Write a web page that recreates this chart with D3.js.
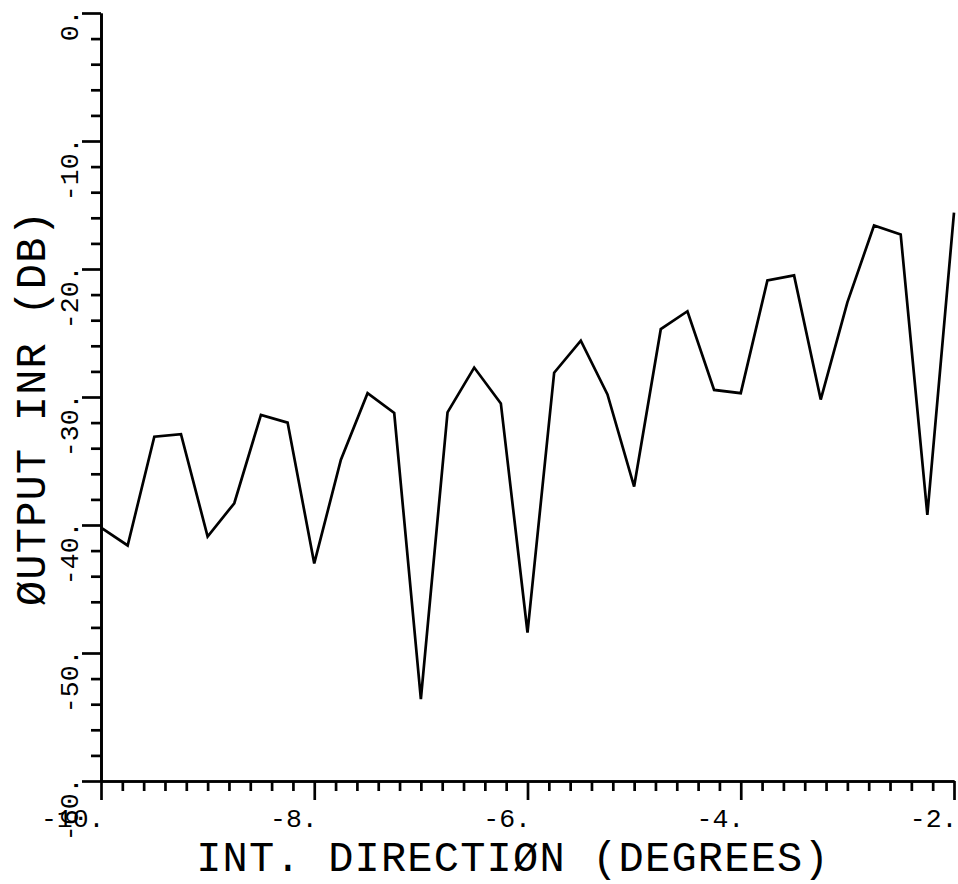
<!DOCTYPE html>
<html>
<head>
<meta charset="utf-8">
<script src="https://cdn.jsdelivr.net/npm/d3@7"></script>
<style>
  html, body { margin: 0; padding: 0; background: #fff; }
  svg { display: block; }
  text { font-family: "Liberation Mono", "DejaVu Sans Mono", monospace; fill: #000; }
</style>
</head>
<body>
<svg id="chart" width="958" height="884"></svg>
<script>
// ---- data ----
const directions = [-10, -9.75, -9.5, -9.25, -9, -8.75, -8.5, -8.25, -8, -7.75, -7.5, -7.25, -7,
  -6.75, -6.5, -6.25, -6, -5.75, -5.5, -5.25, -5, -4.75, -4.5, -4.25, -4, -3.75, -3.5, -3.25,
  -3, -2.75, -2.5, -2.25, -2];
const inrDb = [-40.2, -41.6, -33.1, -32.9, -40.9, -38.3, -31.4, -32.0, -43.0, -34.9, -29.7, -31.25, -53.6,
  -31.2, -27.7, -30.5, -48.4, -28.1, -25.6, -29.8, -37.0, -24.7, -23.3, -29.45, -29.7, -20.9, -20.5, -30.2,
  -22.6, -16.6, -17.3, -39.2, -15.6];
const xMajorTicks = [-10, -8, -6, -4, -2];
const xTickLabels = ["-10.", "-8.", "-6.", "-4.", "-2."];
const yMajorTicks = [0, -10, -20, -30, -40, -50, -60];
const yTickLabels = ["0.", "-10.", "-20.", "-30.", "-40.", "-50.", "-60."];
const xTitle = "INT. DIRECTIØN (DEGREES)";
const yTitle = "ØUTPUT INR (DB)";

// ---- layout ----
const svg = d3.select("#chart");
const x = d3.scaleLinear().domain([-10, -2]).range([101, 954]);
const y = d3.scaleLinear().domain([-60, 0]).range([781, 13]);

const xMinor = d3.range(0, 41).map(i => -10 + i * 0.2).filter((v, i) => i % 10 !== 0);
const yMinor = d3.range(0, 31).map(i => -i * 2).filter(v => v % 10 !== 0);

const sw = 2.7;

// x axis
const gx = svg.append("g").attr("transform", `translate(0,${y(-60)})`);
gx.append("g").call(d3.axisBottom(x).tickValues(xMinor).tickSize(10).tickSizeOuter(0).tickFormat(""));
gx.append("g").call(d3.axisBottom(x).tickValues(xMajorTicks).tickSize(19).tickSizeOuter(0)
  .tickFormat((d, i) => xTickLabels[i]).tickPadding(0));
gx.selectAll("path.domain").attr("stroke", "#000").attr("stroke-width", sw);
gx.selectAll(".tick line").attr("stroke", "#000").attr("stroke-width", sw);
gx.selectAll(".tick text")
  .attr("text-anchor", "end")
  .attr("dx", 3)
  .attr("y", 46)
  .attr("dy", 0)
  .style("font-size", "26.5px");

// y axis
const gy = svg.append("g").attr("transform", `translate(${x(-10)},0)`);
gy.append("g").call(d3.axisLeft(y).tickValues(yMinor).tickSize(10).tickSizeOuter(0).tickFormat(""));
gy.append("g").call(d3.axisLeft(y).tickValues(yMajorTicks).tickSize(19).tickSizeOuter(0)
  .tickFormat((d, i) => yTickLabels[i]).tickPadding(0));
gy.selectAll("path.domain").attr("stroke", "#000").attr("stroke-width", sw);
gy.selectAll(".tick line").attr("stroke", "#000").attr("stroke-width", sw);
gy.selectAll(".tick text")
  .attr("x", null).attr("dy", null)
  .attr("text-anchor", "end")
  .attr("transform", "translate(-23,-4) rotate(-90)")
  .style("font-size", "26.5px");

// titles
svg.append("text")
  .attr("x", 513).attr("y", 871)
  .attr("text-anchor", "middle")
  .style("font-size", "42px")
  .style("letter-spacing", "1.2px")
  .text(xTitle);
svg.append("text")
  .attr("transform", "translate(45,408) rotate(-90)")
  .attr("text-anchor", "middle")
  .style("font-size", "42px")
  .style("letter-spacing", "1.2px")
  .text(yTitle);

// data line
const line = d3.line().x((d, i) => x(directions[i])).y(d => y(d));
svg.append("path")
  .datum(inrDb)
  .attr("fill", "none")
  .attr("stroke", "#000")
  .attr("stroke-width", sw)
  .attr("stroke-linejoin", "miter")
  .attr("d", line);
</script>
</body>
</html>
